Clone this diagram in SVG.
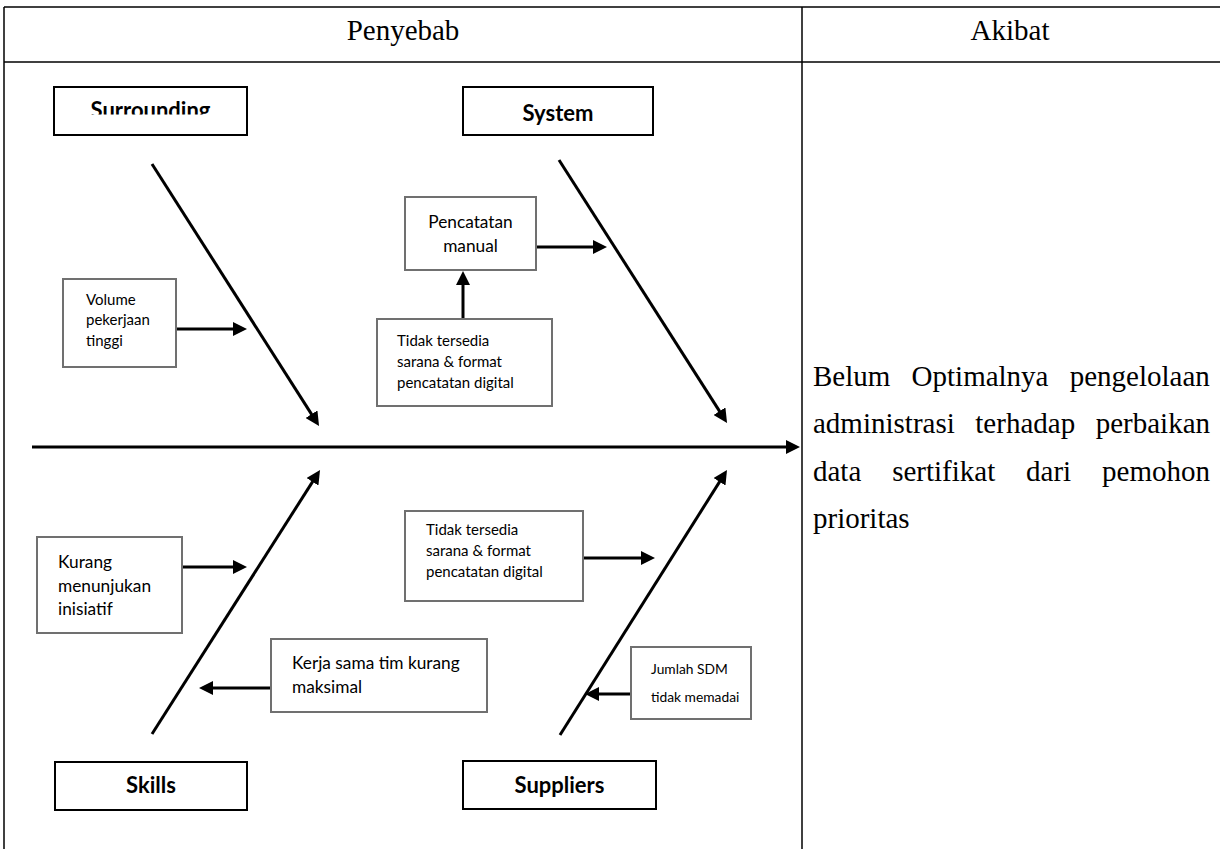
<svg xmlns="http://www.w3.org/2000/svg" width="1220" height="849" viewBox="0 0 1220 849">
<style>
  .tbl { stroke: #000; stroke-width: 1.5; fill: none; }
  .hdr { font-family: "Liberation Serif", "Times New Roman", serif; font-size: 29px; fill: #000; }
  .body { font-family: "Liberation Serif", "Times New Roman", serif; font-size: 29px; fill: #000; }
  .cat rect { fill: #fff; stroke: #000; stroke-width: 2; }
  .cat text { font-family: Lato, "Open Sans", sans-serif; font-weight: bold; font-size: 22px; fill: #000; text-anchor: middle; }
  .cause rect { fill: #fff; stroke: #707070; stroke-width: 2; }
  .cause text { font-family: Lato, "Open Sans", sans-serif; fill: #000; }
  .f17 { font-size: 17.3px; }
  .f15 { font-size: 15px; }
  .f14 { font-size: 13.8px; }
  .bone { stroke: #000; stroke-width: 3; fill: none; marker-end: url(#ah); }
</style>
<defs>
  <marker id="ah" viewBox="0 0 14 14" markerWidth="14" markerHeight="14" refX="5" refY="7" orient="auto" markerUnits="userSpaceOnUse">
    <path d="M0,0 L14,7 L0,14 z" fill="#000"/>
  </marker>
  <clipPath id="clipSur">
    <rect x="54" y="87" width="193" height="27.5"/>
  </clipPath>
</defs>
<rect width="1220" height="849" fill="#fff"/>

<g id="table">
  <line class="tbl" x1="4" y1="7" x2="1220" y2="7"/>
  <line class="tbl" x1="4" y1="62" x2="1220" y2="62"/>
  <line class="tbl" x1="4" y1="7" x2="4" y2="849"/>
  <line class="tbl" x1="802" y1="7" x2="802" y2="849"/>
  <text class="hdr" x="403" y="40" text-anchor="middle">Penyebab</text>
  <text class="hdr" x="1010" y="40" text-anchor="middle">Akibat</text>
</g>

<g id="effect">
  <text class="body" x="813" y="385.5" word-spacing="14">Belum Optimalnya pengelolaan</text>
  <text class="body" x="813" y="433" word-spacing="13.3">administrasi terhadap perbaikan</text>
  <text class="body" x="813" y="481" word-spacing="23.6">data sertifikat dari pemohon</text>
  <text class="body" x="813" y="528">prioritas</text>
</g>

<g id="connectors">
  <line class="bone" x1="32" y1="447" x2="791" y2="447"/>
  <line class="bone" x1="152" y1="164" x2="314.2" y2="418.4"/>
  <line class="bone" x1="559" y1="160" x2="722.2" y2="415.4"/>
  <line class="bone" x1="152" y1="734" x2="315.2" y2="477.6"/>
  <line class="bone" x1="560" y1="735" x2="722.2" y2="477.6"/>
  <line class="bone" x1="176" y1="329" x2="238" y2="329"/>
  <line class="bone" x1="536" y1="247" x2="598" y2="247"/>
  <line class="bone" x1="463" y1="318" x2="463" y2="280"/>
  <line class="bone" x1="583" y1="558" x2="646" y2="558"/>
  <line class="bone" x1="182" y1="567" x2="238" y2="567"/>
  <line class="bone" x1="271" y1="688" x2="208" y2="688"/>
  <line class="bone" x1="631" y1="694" x2="594" y2="694"/>
</g>

<g id="surrounding" class="cat">
  <rect x="54" y="87" width="193" height="48"/>
  <text x="150.5" y="118" clip-path="url(#clipSur)">Surrounding</text>
</g>
<g id="system" class="cat">
  <rect x="463" y="87" width="190" height="48"/>
  <text x="558" y="120.5">System</text>
</g>
<g id="skills" class="cat">
  <rect x="55" y="762" width="192" height="48"/>
  <text x="151" y="793">Skills</text>
</g>
<g id="suppliers" class="cat">
  <rect x="463" y="761" width="193" height="48"/>
  <text x="559.5" y="793">Suppliers</text>
</g>

<g id="volume" class="cause">
  <rect x="63" y="279" width="113" height="88"/>
  <text class="f15" x="86" y="305">Volume</text>
  <text class="f15" x="86" y="325">pekerjaan</text>
  <text class="f15" x="86" y="346">tinggi</text>
</g>
<g id="pencatatan" class="cause">
  <rect x="405" y="197" width="131" height="73"/>
  <text class="f17" x="470.5" y="228" text-anchor="middle">Pencatatan</text>
  <text class="f17" x="470.5" y="252" text-anchor="middle">manual</text>
</g>
<g id="tidak1" class="cause">
  <rect x="377" y="319" width="175" height="87"/>
  <text class="f15" x="397" y="346">Tidak tersedia</text>
  <text class="f15" x="397" y="367">sarana &amp; format</text>
  <text class="f15" x="397" y="388">pencatatan  digital</text>
</g>
<g id="tidak2" class="cause">
  <rect x="405" y="511" width="178" height="90"/>
  <text class="f15" x="426" y="535">Tidak tersedia</text>
  <text class="f15" x="426" y="556">sarana &amp; format</text>
  <text class="f15" x="426" y="577">pencatatan digital</text>
</g>
<g id="kurang" class="cause">
  <rect x="37" y="537" width="145" height="96"/>
  <text class="f17" x="58" y="568">Kurang</text>
  <text class="f17" x="58" y="592">menunjukan</text>
  <text class="f17" x="58" y="615">inisiatif</text>
</g>
<g id="kerja" class="cause">
  <rect x="271" y="639" width="216" height="73"/>
  <text class="f17" x="292" y="669">Kerja sama tim kurang</text>
  <text class="f17" x="292" y="693">maksimal</text>
</g>
<g id="jumlah" class="cause">
  <rect x="631" y="647" width="120" height="72"/>
  <text class="f14" x="651" y="674">Jumlah SDM</text>
  <text class="f14" x="651" y="702">tidak memadai</text>
</g>
</svg>
